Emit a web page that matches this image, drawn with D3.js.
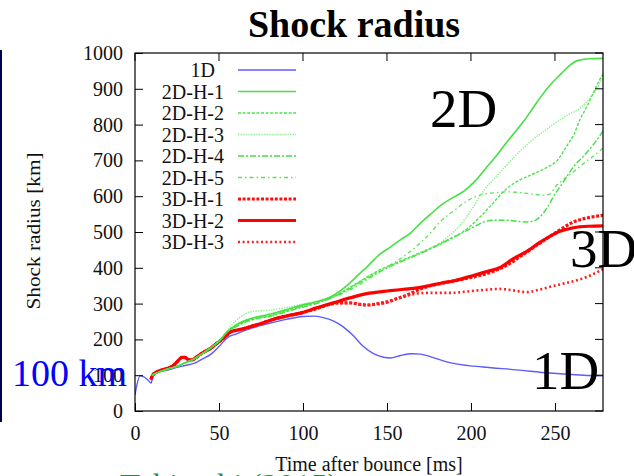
<!DOCTYPE html>
<html><head><meta charset="utf-8">
<script src="https://cdn.jsdelivr.net/npm/d3@7"></script>
<style>
html,body{margin:0;padding:0;background:#fff;}
svg{display:block;}
</style></head>
<body>
<svg id="chart" width="634" height="476"></svg>
<script>
// ---------- data ----------
const xTicks = [0, 50, 100, 150, 200, 250];
const yTicks = [0, 100, 200, 300, 400, 500, 600, 700, 800, 900, 1000];
const seriesNames = ["1D","2D-H-1","2D-H-2","2D-H-3","2D-H-4","2D-H-5","3D-H-1","3D-H-2","3D-H-3"];

const d1D = [[0,45],[1,70],[3,98],[5,96],[8,85],[9.5,78],[11,102],[15,110],[20,115],[25,122],[30,127],[35,133],[40,145],[45,158],[50,180],[55,205],[60,215],[70,232],[80,245],[90,256],[100,264],[106,265],[112,261],[118,252],[124,235],[130,210],[136,180],[142,160],[148,150],[152,148],[158,155],[165,160],[170,159],[177,150],[185,138],[192,131],[207,123],[227,115],[247,106],[267,100],[279,98]];

const d2DH1 = [[10,100],[15,110],[20,118],[25,125],[30,135],[35,145],[40,160],[45,176],[50,195],[55,222],[60,240],[65,252],[70,260],[80,270],[90,283],[99,295],[108,305],[116,318],[122,335],[128,358],[134,385],[138,402],[145,435],[152,458],[158,478],[164,497],[170,525],[176,550],[183,578],[190,598],[196,615],[202,640],[209,679],[215,712],[219,737],[225,772],[231,807],[236,840],[241,874],[247,910],[253,939],[258,962],[263,978],[270,984],[279,985]];
const d2DH2 = [[10,100],[15,110],[20,118],[25,125],[30,135],[35,145],[40,160],[45,176],[50,195],[55,222],[60,238],[65,250],[70,258],[80,266],[90,280],[99,291],[108,302],[118,320],[128,345],[136,368],[146,395],[156,415],[166,435],[176,455],[186,478],[195,500],[205,540],[213,580],[221,620],[229,645],[237,662],[245,680],[251,698],[257,740],[261,770],[265,815],[269,850],[273,890],[276,920],[279,944]];
const d2DH3 = [[10,100],[15,110],[20,118],[25,125],[30,135],[35,145],[40,160],[45,176],[50,195],[55,224],[58,242],[62,260],[66,272],[71,279],[79,281],[89,288],[99,298],[108,307],[116,318],[126,340],[136,368],[146,392],[156,414],[166,434],[176,455],[182,470],[187,490],[192,511],[200,560],[207,612],[215,655],[223,696],[229,725],[235,751],[243,780],[251,807],[258,828],[265,846],[270,870],[275,902],[279,938]];
const d2DH4 = [[10,100],[15,110],[20,118],[25,125],[30,135],[35,145],[40,160],[45,176],[50,195],[55,222],[60,235],[65,247],[70,255],[80,264],[90,277],[99,289],[108,300],[118,318],[128,342],[136,365],[146,390],[156,412],[166,432],[176,453],[186,476],[195,498],[202,515],[209,530],[215,533],[221,533],[227,530],[233,528],[238,532],[241,542],[245,565],[249,598],[255,640],[261,682],[267,712],[273,745],[279,785]];
const d2DH5 = [[10,100],[15,110],[20,118],[25,125],[30,135],[35,145],[40,160],[45,176],[50,195],[55,222],[60,236],[65,248],[70,256],[80,266],[90,280],[99,292],[108,304],[118,318],[128,338],[138,366],[146,390],[150,402],[160,432],[168,462],[176,498],[182,530],[190,560],[198,588],[207,605],[215,610],[221,612],[227,611],[235,607],[243,603],[247,606],[250,625],[256,650],[262,672],[268,695],[274,716],[279,737]];

const d3DH1 = [[9.5,88],[10.5,100],[13,109],[17,116],[20,120],[23,128],[26,142],[28,150],[30,149],[32,143],[34,143],[37,152],[40,162],[45,175],[49,190],[53,205],[57,221],[63,228],[69,236],[76,246],[83,257],[91,266],[99,274],[108,286],[116,298],[122,302],[128,302],[134,298],[138,296],[144,299],[150,304],[156,314],[162,324],[171,343],[183,357],[198,371],[210,385],[221,406],[231,437],[241,469],[251,500],[261,528],[270,540],[279,547]];
const d3DH2 = [[9.5,88],[10.5,100],[13,109],[17,116],[20,120],[23,128],[26,142],[28,150],[30,149],[32,143],[34,143],[37,152],[40,162],[45,175],[49,190],[53,205],[57,221],[63,228],[69,236],[76,246],[83,257],[91,266],[99,274],[108,288],[118,302],[128,316],[138,328],[148,334],[152,336],[160,340],[168,344],[175,350],[182,357],[190,364],[201,378],[210,390],[217,400],[225,425],[233,445],[241,471],[247,488],[253,502],[261,512],[270,516],[279,517]];
const d3DH3 = [[9.5,88],[10.5,100],[13,109],[17,116],[20,120],[23,128],[26,142],[28,150],[30,149],[32,143],[34,143],[37,152],[40,162],[45,175],[49,190],[53,205],[57,221],[63,228],[69,236],[76,246],[83,257],[91,266],[99,274],[108,286],[116,298],[122,302],[128,302],[134,298],[138,296],[144,300],[150,306],[156,314],[162,322],[168,328],[174,330],[188,330],[200,335],[207,338],[217,341],[225,337],[233,332],[240,338],[247,347],[257,358],[267,371],[279,397]];

const seriesData = [d1D, d2DH1, d2DH2, d2DH3, d2DH4, d2DH5, d3DH1, d3DH2, d3DH3];

// ---------- styles ----------
const SERIF = '"Liberation Serif","Times New Roman","DejaVu Serif",serif';
const styles = [
  {c:"#5b5bff", w:1.4, dash:null},
  {c:"#44e044", w:1.6, dash:null},
  {c:"#4ee44e", w:1.4, dash:"3,1.6"},
  {c:"#8cf08c", w:1.4, dash:"1.4,1.2"},
  {c:"#44dd44", w:1.4, dash:"6,2,2,2"},
  {c:"#55e655", w:1.3, dash:"4,3,1.5,3"},
  {c:"#ff1010", w:3.2, dash:"3,1.6"},
  {c:"#ff0000", w:3.2, dash:null},
  {c:"#ff2020", w:2.6, dash:"2,2.6"}
];

const svg = d3.select("#chart");
const L = 135, R = 603, T = 53, B = 411;
const x = d3.scaleLinear().domain([0, 278.6]).range([L, R]);
const y = d3.scaleLinear().domain([0, 1000]).range([B, T]);

function txt(sel){ return sel.style("font-family", SERIF); }

// background annotation (behind)
txt(svg.append("text")).attr("x", 120).attr("y", 497).attr("font-size", 33)
  .attr("fill", "#1e8a48").text("Takiwaki (2015)");

// left slide border
svg.append("rect").attr("x", 0).attr("y", 50).attr("width", 2).attr("height", 372).attr("fill", "#000050");

// title
txt(svg.append("text")).attr("x", 354).attr("y", 37).attr("text-anchor", "middle")
  .attr("font-size", 38).attr("font-weight", "bold").attr("fill", "#000").text("Shock radius");

// clip
svg.append("clipPath").attr("id", "clip").append("rect")
  .attr("x", L).attr("y", T).attr("width", R - L).attr("height", B - T);

// lines
const line = d3.line().x(d => x(d[0])).y(d => y(d[1])).curve(d3.curveMonotoneX);
const g = svg.append("g").attr("clip-path", "url(#clip)");
const order = [0, 6, 8, 7, 5, 4, 3, 2, 1];
order.forEach(i => {
  const s = styles[i];
  g.append("path").datum(seriesData[i]).attr("d", line)
    .attr("fill", "none").attr("stroke", s.c).attr("stroke-width", s.w)
    .attr("stroke-dasharray", s.dash).attr("stroke-linejoin", "round");
});

// axes
const tickLen = 8;
const yAxis = d3.axisLeft(y).tickValues(yTicks).tickFormat(d3.format("d")).tickSizeInner(-tickLen).tickSizeOuter(0).tickPadding(12);
const xAxis = d3.axisBottom(x).tickValues(xTicks).tickFormat(d3.format("d")).tickSizeInner(-tickLen).tickSizeOuter(0).tickPadding(15);
const ya = svg.append("g").attr("transform", `translate(${L},0)`).call(yAxis);
const xa = svg.append("g").attr("transform", `translate(0,${B})`).call(xAxis);
[ya, xa].forEach(a => {
  a.attr("font-family", null).attr("font-size", null);
  a.select(".domain").remove();
  a.selectAll("line").attr("stroke", "#000");
  txt(a.selectAll("text")).attr("font-size", 20).attr("fill", "#111");
});
// mirror ticks
svg.append("g").selectAll("line").data(xTicks).join("line")
  .attr("x1", d => x(d)).attr("x2", d => x(d)).attr("y1", T).attr("y2", T + tickLen).attr("stroke", "#000");
svg.append("g").selectAll("line").data(yTicks).join("line")
  .attr("x1", R).attr("x2", R - tickLen).attr("y1", d => y(d)).attr("y2", d => y(d)).attr("stroke", "#000");
// frame
svg.append("rect").attr("x", L).attr("y", T).attr("width", R - L).attr("height", B - T)
  .attr("fill", "none").attr("stroke", "#000").attr("stroke-width", 1.2);

// legend
const leg = svg.append("g");
seriesNames.forEach((n, i) => {
  const yy = 70 + i * 21.5;
  const s = styles[i];
  txt(leg.append("text")).attr("x", i === 0 ? 215 : 224).attr("y", yy + 7).attr("text-anchor", "end")
    .attr("font-size", 20).attr("fill", "#111").text(n);
  leg.append("line").attr("x1", 238).attr("x2", 296).attr("y1", yy).attr("y2", yy)
    .attr("stroke", s.c).attr("stroke-width", s.w).attr("stroke-dasharray", s.dash);
});

// axis labels
txt(svg.append("text")).attr("x", 369).attr("y", 471).attr("text-anchor", "middle")
  .attr("font-size", 20).attr("fill", "#111").text("Time after bounce [ms]");
txt(svg.append("text")).attr("transform", "translate(40,231) rotate(-90)").attr("text-anchor", "middle")
  .attr("font-size", 19).attr("fill", "#111").attr("textLength", 157).attr("lengthAdjust", "spacingAndGlyphs")
  .text("Shock radius [km]");

// big annotations
txt(svg.append("text")).attr("x", 430).attr("y", 127).attr("font-size", 55).attr("fill", "#000").text("2D");
txt(svg.append("text")).attr("x", 570).attr("y", 267).attr("font-size", 55).attr("fill", "#000").text("3D");
txt(svg.append("text")).attr("x", 532).attr("y", 389).attr("font-size", 55).attr("fill", "#000").text("1D");
txt(svg.append("text")).attr("x", 12).attr("y", 386).attr("font-size", 38).attr("fill", "#0000ff").text("100 km");
</script>
</body></html>
